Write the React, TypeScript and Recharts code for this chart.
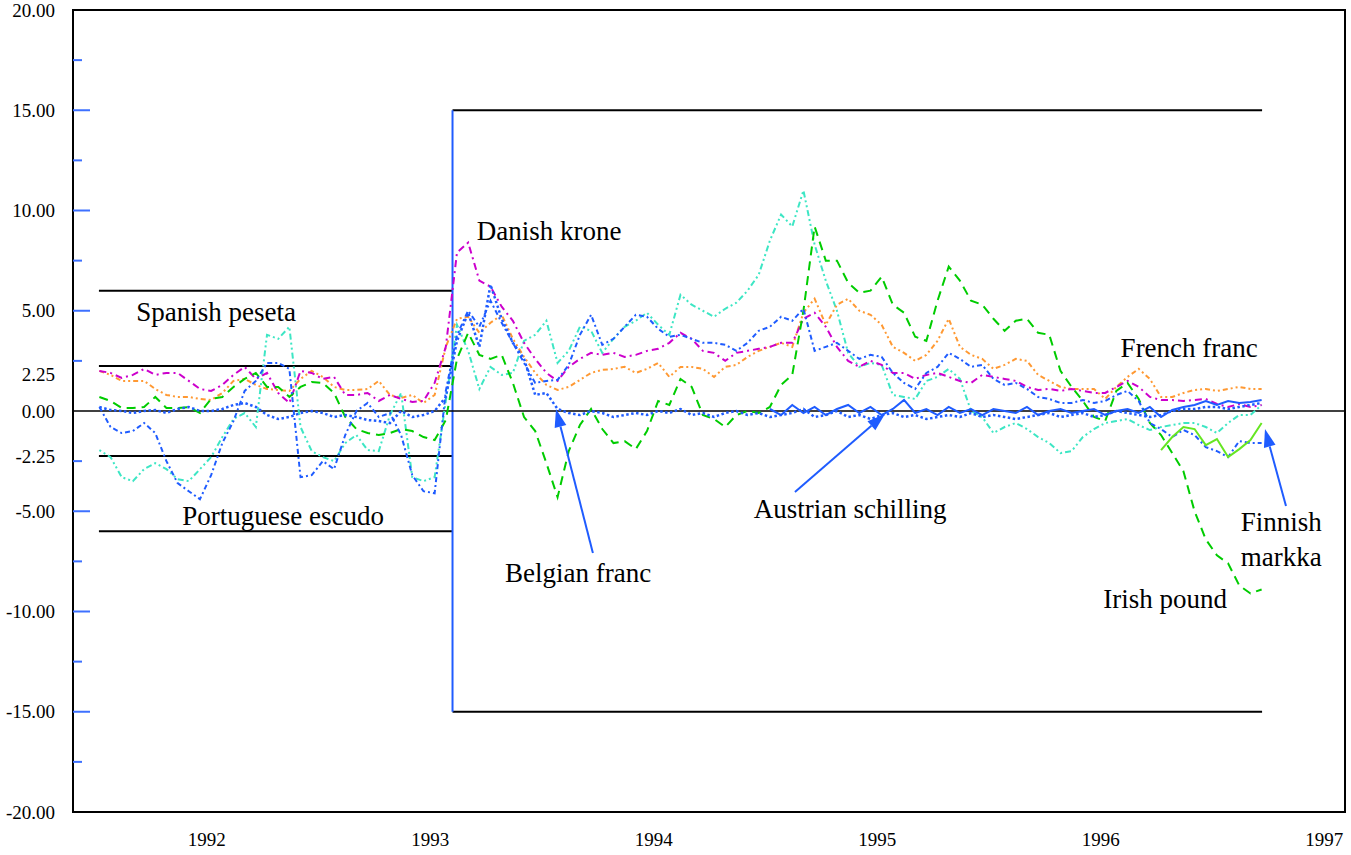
import React from "react";
import {
  LineChart,
  Line,
  XAxis,
  YAxis,
  ReferenceLine,
  ReferenceArea,
  ReferenceDot,
} from "recharts";

// sampling of the series: every 0.05 year starting mid-1991
const T0 = 1991.52;
const STEP = 0.05;

const X_MIN = 1991.402;
const X_MAX = 1997.093;
const YEAR_TICKS = [1992, 1993, 1994, 1995, 1996, 1997];

const Y_LABELS = [20, 15, 10, 5, 2.25, 0, -2.25, -5, -10, -15, -20];
const Y_MARKS_LONG = [15, 10, 5, -5, -10, -15];
const Y_MARKS_SHORT = [17.5, 12.5, 7.5, 2.5, -2.5, -7.5, -12.5, -17.5];

// fluctuation bands
const NARROW_BAND = 2.25;
const WIDE_BAND = 6;
const POST_BAND = 15;
const BAND_START = 1991.518;
const BAND_SWITCH = 1993.1;
const BAND_END = 1996.722;

// deviation from central parity, %
const dkk = [
  2.0, 1.9, 1.65, 1.8, 2.1, 1.8, 1.9, 1.9, 1.5, 1.1,
  1.0, 1.3, 1.8, 2.2, 1.6, 1.9, 0.9, 0.4, 2.0, 1.9,
  1.6, 1.7, 0.8, 0.8, 0.9, 0.5, 0.8, 0.6, 0.45, 0.5,
  1.4, 3.2, 7.9, 8.4, 6.5, 6.2, 5.2, 4.5, 3.4, 2.6,
  1.9, 1.5, 2.2, 2.6, 2.9, 2.8, 2.9, 2.7, 2.8, 3.0,
  3.1, 3.4, 3.9, 3.6, 3.0, 2.9, 2.5, 2.9, 3.0, 3.1,
  3.2, 3.4, 3.4, 4.6, 4.9, 4.2, 3.2, 2.5, 2.2, 2.5,
  2.3, 1.9, 1.9, 1.6, 1.8, 1.9, 1.7, 1.5, 1.4, 1.8,
  1.7, 1.6, 1.5, 1.2, 1.05, 1.1, 1.0, 1.1, 1.0, 0.9,
  0.9, 1.2, 1.5, 1.2, 0.7, 0.55, 0.55, 0.5, 0.55, 0.6,
  0.35, 0.2, 0.35, 0.2, 0.3,
];

const frf = [
  2.0, 1.8, 1.5, 1.5, 1.5, 1.1, 0.8, 0.7, 0.7, 0.6,
  0.55, 0.9, 1.5, 1.6, 1.3, 1.1, 1.05, 1.0, 1.6, 2.0,
  1.7, 1.2, 1.05, 1.05, 1.1, 1.5, 0.8, 0.65, 0.8, 0.4,
  0.8, 3.2, 4.6, 4.7, 3.9, 4.4, 4.8, 3.6, 2.7, 1.9,
  1.3, 1.05, 1.2, 1.55, 1.9, 2.05, 2.1, 2.2, 1.9, 2.1,
  2.4, 1.7, 2.2, 2.2, 2.1, 1.7, 2.2, 2.3, 2.7, 3.0,
  3.2, 3.4, 3.2, 4.9, 5.6, 4.3, 5.3, 5.6, 5.0, 4.8,
  4.3, 3.2, 2.9, 2.5, 2.8, 3.5, 4.6, 3.2, 2.8, 2.6,
  2.1, 2.3, 2.6, 2.5, 1.8, 1.5, 1.2, 1.1, 1.1, 1.1,
  0.6, 1.2, 1.7, 2.1, 1.6, 0.7, 0.7, 0.9, 1.05, 1.1,
  1.0, 1.1, 1.2, 1.1, 1.1,
];

const iep = [
  0.7, 0.5, 0.15, 0.15, 0.2, 0.7, 0.15, 0.15, 0.2, -0.1,
  0.6, 0.7, 1.2, 1.6, 1.9, 1.2, 1.2, 0.7, 1.2, 1.45,
  1.4, 0.9, -0.3, -0.9, -1.1, -1.2, -1.1, -0.9, -1.0, -1.3,
  -1.45, -0.45, 2.6, 3.9, 2.8, 2.6, 2.8, 1.4, -0.3, -1.0,
  -2.6, -4.3, -2.0, -0.7, 0.1, -0.9, -1.6, -1.5, -1.9, -1.0,
  0.5, 0.3, 1.6, 1.2, -0.2, -0.4, -0.8, -0.2, 0.0, -0.1,
  0.2, 1.3, 1.8, 5.0, 9.2, 7.5, 7.5, 6.4, 5.9, 6.0,
  6.7, 5.3, 4.9, 3.7, 3.5, 5.5, 7.2, 6.5, 5.5, 5.3,
  4.6, 4.0, 4.5, 4.6, 3.9, 3.8, 2.0, 1.2, 0.5, -0.3,
  -0.5, 1.0, 1.4, 0.6, -0.6, -1.2, -2.1, -3.0, -5.0, -6.4,
  -7.2, -7.6, -8.7, -9.1, -8.9,
];

const esp = [
  -1.95, -2.3, -3.3, -3.5, -2.9, -2.6, -2.9, -3.4, -3.5, -2.9,
  -2.3, -1.3, -0.4, -0.1, -0.8, 3.8, 3.6, 4.2, -0.8, -2.0,
  -2.3, -2.5, -1.6, -1.2, -1.95, -2.0, -0.2, 0.9, -3.3, -3.5,
  -3.3, 0.5, 4.3, 3.0, 1.1, 2.2, 1.8, 1.9, 3.5, 3.8,
  4.5, 2.4, 3.0, 4.2, 4.0, 2.9, 3.6, 4.2, 4.5, 4.9,
  4.3, 3.8, 5.8, 5.3, 5.0, 4.7, 5.1, 5.4, 6.0, 6.8,
  8.5, 9.8, 9.2, 11.0, 8.3, 6.5, 5.0, 2.9, 2.2, 2.4,
  2.3, 0.8, 0.7, 0.6, 1.5, 1.7, 2.1, 1.6, 0.0, -0.3,
  -1.1, -0.8, -0.6, -0.9, -1.3, -1.6, -2.1, -2.0, -1.3, -0.9,
  -0.6, -0.5, -0.4, -0.7, -0.95, -0.8, -0.7, -0.6, -0.6, -0.8,
  -1.1, -0.6, -0.2, -0.2, 0.3,
];

const bef = [
  0.2, 0.05, 0.0, -0.1, 0.0, 0.05, -0.1, 0.1, 0.2, 0.0,
  0.0, 0.1, 0.3, 0.4, 0.2, -0.2, -0.4, -0.3, -0.1, 0.0,
  -0.1, -0.3, -0.2, -0.3, -0.45, -0.5, -0.6, 0.0, -0.3, -0.2,
  0.0, 0.7, 3.5, 4.9, 3.2, 6.3, 4.6, 3.4, 2.6, 0.8,
  0.9, 0.1, -0.1, -0.2, 0.0, -0.1, -0.3, -0.2, -0.1, -0.2,
  0.0, -0.1, 0.1, -0.2, -0.1, -0.3, -0.1, 0.0, -0.2, -0.1,
  -0.3, -0.2, -0.1, 0.1, -0.3, -0.2, 0.0, -0.3, -0.2, -0.4,
  -0.2, -0.1, -0.3, -0.2, -0.4, -0.3, -0.2, -0.3, -0.1, -0.3,
  -0.2, -0.3, -0.4, -0.3, -0.2, -0.1, -0.3, -0.2, -0.1, -0.3,
  -0.2, 0.0, -0.1, -0.2, -0.3, -0.2, 0.0, 0.1, 0.1, 0.2,
  0.2, 0.1, 0.2, 0.3, 0.4,
];

const pte = [
  0.2, -0.8, -1.1, -1.0, -0.6, -1.1, -2.5, -3.6, -4.0, -4.4,
  -3.2, -1.6, -0.5, 1.0, 1.5, 2.4, 2.4, 2.1, -3.3, -3.2,
  -2.5, -2.9, -1.2, 0.0, 0.4, -0.3, -0.1, -1.2, -3.2, -4.0,
  -4.1, 1.0, 3.8, 5.0, 4.2, 5.5, 4.4, 3.4, 2.4, 1.4,
  1.5, 1.55, 2.3, 3.8, 4.8, 3.3, 3.6, 4.2, 4.8, 4.7,
  4.1, 3.7, 3.8, 3.6, 3.4, 3.4, 3.3, 3.0, 3.4, 4.0,
  4.2, 4.7, 4.5, 5.1, 3.0, 3.2, 3.4, 3.0, 2.6, 2.8,
  2.7, 1.9, 1.4, 1.1, 1.9, 2.2, 2.9, 2.6, 2.2, 2.3,
  1.6, 1.3, 1.4, 1.1, 0.7, 0.6, 0.4, 0.4, 0.55, 0.4,
  0.5, 0.8, 1.0, 0.5, -0.6, -0.9, -1.3, -0.95, -1.2, -1.8,
  -2.0, -2.3, -1.5, -1.6, -1.6,
];

// Austrian schilling joins at sample 60, Finnish markka at sample 95
const ATS_FROM = 60;
const ats = [
  0.1, -0.2, 0.3, -0.1, 0.2, -0.2, 0.1, 0.3, -0.1, 0.2,
  -0.2, 0.1, 0.55, -0.1, 0.1, -0.2, 0.2, -0.1, 0.1, -0.2,
  0.1, 0.0, -0.1, 0.2, -0.2, 0.0, 0.1, -0.1, 0.0, 0.1,
  -0.2, 0.0, 0.1, -0.1, 0.2, -0.3, 0.05, 0.2, 0.3, 0.5,
  0.3, 0.5, 0.4, 0.45, 0.55,
];
const FIM_FROM = 95;
const fim = [-1.95, -1.3, -0.8, -0.9, -1.7, -1.4, -2.3, -1.9, -1.45, -0.6];

const data = dkk.map((_, i) => ({
  t: +(T0 + i * STEP).toFixed(3),
  dkk: dkk[i],
  frf: frf[i],
  iep: iep[i],
  esp: esp[i],
  bef: bef[i],
  pte: pte[i],
  ats: i >= ATS_FROM ? ats[i - ATS_FROM] : null,
  fim: i >= FIM_FROM ? fim[i - FIM_FROM] : null,
}));

const BLUE = "#1f5cff";
const SERIF = "'Liberation Serif', 'Times New Roman', serif";

const series = [
  { key: "esp", color: "#3de6c4", dash: "2 3 2 3 6 3", width: 2 },
  { key: "frf", color: "#ff9933", dash: "5 3 2 3 2 3", width: 2 },
  { key: "dkk", color: "#cc00cc", dash: "7 4 2 4", width: 2 },
  { key: "iep", color: "#00cc00", dash: "9 6", width: 2 },
  { key: "pte", color: BLUE, dash: "5 3 2 3", width: 2 },
  { key: "bef", color: BLUE, dash: "2.5 2.5", width: 2.5 },
  { key: "ats", color: BLUE, dash: undefined, width: 2 },
  { key: "fim", color: "#66e622", dash: undefined, width: 2 },
];

const labels = [
  { text: "Spanish peseta", x: 1992.042, y: 4.99 },
  { text: "Portuguese escudo", x: 1992.342, y: -5.19 },
  { text: "Danish krone", x: 1993.532, y: 9.03 },
  { text: "Belgian franc", x: 1993.662, y: -8.03 },
  { text: "Austrian schilling", x: 1994.879, y: -4.84 },
  { text: "French franc", x: 1996.396, y: 3.19 },
  { text: "Finnish", x: 1996.808, y: -5.49 },
  { text: "markka", x: 1996.808, y: -7.23 },
  { text: "Irish pound", x: 1996.288, y: -9.33 },
];

const arrows = [
  { from: { x: 1993.728, y: -7.08 }, to: { x: 1993.563, y: 0.1 } },
  { from: { x: 1994.632, y: -4.04 }, to: { x: 1995.035, y: -0.15 } },
  { from: { x: 1996.829, y: -4.74 }, to: { x: 1996.735, y: -0.9 } },
];

function Arrow(props: any) {
  const { x1, y1, x2, y2 } = props;
  const a = Math.atan2(y2 - y1, x2 - x1);
  const len = 18;
  const half = 6;
  const bx = x2 - len * Math.cos(a);
  const by = y2 - len * Math.sin(a);
  const p1 = `${bx + half * Math.sin(a)},${by - half * Math.cos(a)}`;
  const p2 = `${bx - half * Math.sin(a)},${by + half * Math.cos(a)}`;
  return (
    <g>
      <line x1={x1} y1={y1} x2={bx} y2={by} stroke={BLUE} strokeWidth={2} />
      <polygon points={`${x2},${y2} ${p1} ${p2}`} fill={BLUE} />
    </g>
  );
}

function YTick(props: any) {
  const { x, y, payload } = props;
  const v = payload.value;
  const axisX = x + 18;
  const isLong = Y_MARKS_LONG.includes(v);
  const isShort = Y_MARKS_SHORT.includes(v);
  return (
    <g>
      {Y_LABELS.includes(v) && (
        <text
          x={x}
          y={y + (v === 2.25 ? 8 : 0)}
          dy="0.35em"
          textAnchor="end"
          fontSize={19}
          fontFamily={SERIF}
          fill="#000"
        >
          {v.toFixed(2)}
        </text>
      )}
      {(isLong || isShort) && (
        <line
          x1={axisX}
          x2={axisX + (isLong ? 17 : 9)}
          y1={y}
          y2={y}
          stroke="#3d70ff"
          strokeWidth={2}
        />
      )}
    </g>
  );
}

export default function App() {
  const yTicks = [...Y_LABELS, ...Y_MARKS_SHORT].sort((a, b) => b - a);
  return (
    <div style={{ position: "absolute", left: 0, top: 0, background: "#fff" }}>
      <LineChart
        width={1351}
        height={855}
        data={data}
        margin={{ top: 10, right: 6, bottom: 0, left: 0 }}
      >
        <XAxis
          type="number"
          dataKey="t"
          domain={[X_MIN, X_MAX]}
          allowDataOverflow
          ticks={YEAR_TICKS}
          interval={0}
          height={43}
          axisLine={false}
          tickLine={false}
          tickSize={0}
          tickMargin={21}
          tick={{ fontSize: 19, fontFamily: SERIF, fill: "#000" }}
        />
        <YAxis
          type="number"
          domain={[-20, 20]}
          allowDataOverflow
          ticks={yTicks}
          interval={0}
          width={73}
          axisLine={false}
          tickLine={false}
          tickSize={0}
          tickMargin={18}
          tick={YTick}
        />
        <ReferenceArea
          x1={X_MIN}
          x2={X_MAX}
          y1={-20}
          y2={20}
          fill="none"
          fillOpacity={0}
          stroke="#000"
          strokeWidth={2}
        />
        {[WIDE_BAND, NARROW_BAND, -NARROW_BAND, -WIDE_BAND].map((b) => (
          <ReferenceLine
            key={"b" + b}
            segment={[
              { x: BAND_START, y: b },
              { x: BAND_SWITCH, y: b },
            ]}
            stroke="#000"
            strokeWidth={2}
          />
        ))}
        {[POST_BAND, -POST_BAND].map((b) => (
          <ReferenceLine
            key={"p" + b}
            segment={[
              { x: BAND_SWITCH, y: b },
              { x: BAND_END, y: b },
            ]}
            stroke="#000"
            strokeWidth={2}
          />
        ))}
        <ReferenceLine
          segment={[
            { x: BAND_SWITCH, y: POST_BAND },
            { x: BAND_SWITCH, y: -POST_BAND },
          ]}
          stroke={BLUE}
          strokeWidth={2}
        />
        <ReferenceLine y={0} stroke="#000" strokeWidth={1.5} />
        {series.map((s) => (
          <Line
            key={s.key}
            type="linear"
            dataKey={s.key}
            stroke={s.color}
            strokeWidth={s.width}
            strokeDasharray={s.dash}
            dot={false}
            activeDot={false}
            connectNulls={false}
            isAnimationActive={false}
          />
        ))}
        {arrows.map((a, i) => (
          <ReferenceLine
            key={"a" + i}
            segment={[a.from, a.to]}
            stroke={BLUE}
            shape={Arrow}
          />
        ))}
        {labels.map((l) => (
          <ReferenceDot
            key={l.text}
            x={l.x}
            y={l.y}
            r={1}
            fill="none"
            stroke="none"
            label={{
              value: l.text,
              position: "center",
              fontSize: 27,
              fontFamily: SERIF,
              fill: "#000",
            }}
          />
        ))}
      </LineChart>
    </div>
  );
}
